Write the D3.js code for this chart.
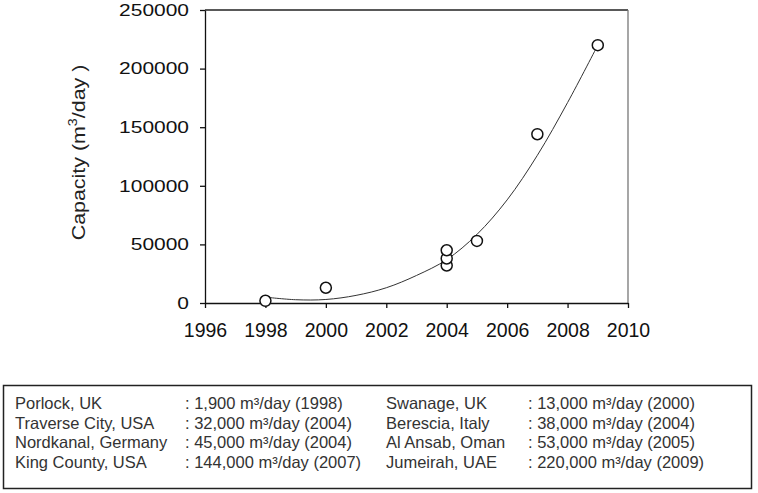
<!DOCTYPE html>
<html>
  <head>
    <meta charset="UTF-8">
    <title>Capacity by year</title>
    <script src="https://d3js.org/d3.v7.min.js"></script>
    <style>
      body { margin: 0; background: #fff; }
      text { font-family: "Liberation Sans", Arial, sans-serif; }
    </style>
  </head>
  <body>
    <svg id="chart" width="758" height="493"></svg>
    <script>
      // plants, listed in the legend row by row
      const sites = ["Porlock, UK", "Swanage, UK", "Traverse City, USA", "Berescia, Italy",
                     "Nordkanal, Germany", "Al Ansab, Oman", "King County, USA", "Jumeirah, UAE"];
      const capacities = [1900, 13000, 32000, 38000, 45000, 53000, 144000, 220000];
      const years = [1998, 2000, 2004, 2004, 2004, 2005, 2007, 2009];

      // trend line
      const trendYears = [1998, 1999, 2000, 2001, 2002, 2003, 2004, 2005, 2006, 2007, 2008, 2009];
      const trendValues = [5000, 2800, 3000, 6500, 13000, 23500, 37000, 58500, 88000, 126000, 171000, 220000];

      const xTicks = [1996, 1998, 2000, 2002, 2004, 2006, 2008, 2010];
      const yTicks = [0, 50000, 100000, 150000, 200000, 250000];

      const svg = d3.select('#chart');

      const x = d3.scaleLinear().domain([1996, 2010]).range([205, 628]);
      const y = d3.scaleLinear().domain([0, 250000]).range([303, 10]);

      // frame top + right
      svg.append('line')
        .attr('x1', x(1996)).attr('x2', x(2010))
        .attr('y1', y(250000)).attr('y2', y(250000))
        .attr('stroke', '#222').attr('stroke-width', 1.3);
      svg.append('line')
        .attr('x1', x(2010)).attr('x2', x(2010))
        .attr('y1', y(250000)).attr('y2', y(0))
        .attr('stroke', '#777').attr('stroke-width', 1.3);

      const yAxis = svg.append('g')
        .attr('transform', `translate(${x(1996)},0)`)
        .call(d3.axisLeft(y).tickValues(yTicks).tickFormat(d3.format('d'))
          .tickSize(5).tickSizeOuter(0));
      yAxis.selectAll('text')
        .attr('x', null)
        .attr('transform', 'translate(-16,0) scale(1.27,1)')
        .style('font-size', '16.5px')
        .attr('fill', '#111');

      const xAxis = svg.append('g')
        .attr('transform', `translate(0,${y(0)})`)
        .call(d3.axisBottom(x).tickValues(xTicks).tickFormat(d3.format('d'))
          .tickSize(5).tickSizeOuter(0).tickPadding(15));
      xAxis.selectAll('text')
        .style('font-size', '19.5px')
        .attr('fill', '#111');

      svg.selectAll('.domain, .tick line')
        .attr('stroke', '#111').attr('stroke-width', 1.3);

      // y label
      const yLabel = svg.append('text')
        .attr('transform', 'translate(85,152.5) rotate(-90) scale(1.19,1)')
        .attr('text-anchor', 'middle')
        .style('font-size', '18px')
        .attr('fill', '#222');
      yLabel.append('tspan').text('Capacity (m');
      yLabel.append('tspan').attr('dy', -8).style('font-size', '12px').text('3');
      yLabel.append('tspan').attr('dy', 8).text('/day )');

      // trend curve
      const line = d3.line()
        .x((d, i) => x(trendYears[i]))
        .y(d => y(d))
        .curve(d3.curveCatmullRom);
      svg.append('path')
        .datum(trendValues)
        .attr('d', line)
        .attr('fill', 'none')
        .attr('stroke', '#333')
        .attr('stroke-width', 1);

      // points
      svg.selectAll('.pt')
        .data(capacities)
        .enter()
        .append('circle')
        .attr('class', 'pt')
        .attr('cx', (d, i) => x(years[i]))
        .attr('cy', d => y(d))
        .attr('r', 5.5)
        .attr('fill', '#fff')
        .attr('stroke', '#111')
        .attr('stroke-width', 1.5);

      // legend table
      svg.append('rect')
        .attr('x', 3.5).attr('y', 385.5)
        .attr('width', 748).attr('height', 103)
        .attr('fill', 'none')
        .attr('stroke', '#222')
        .attr('stroke-width', 1.5);

      const colX = [15, 185, 386, 528];
      const fmt = d3.format(',');
      const rows = svg.selectAll('.leg')
        .data(sites)
        .enter()
        .append('g')
        .attr('class', 'leg')
        .attr('transform', (d, i) => `translate(0,${409 + Math.floor(i / 2) * 19.5})`);
      rows.append('text')
        .attr('x', (d, i) => colX[(i % 2) * 2])
        .style('font-size', '16.5px')
        .attr('fill', '#333')
        .text(d => d);
      rows.append('text')
        .attr('x', (d, i) => colX[(i % 2) * 2 + 1])
        .style('font-size', '16.5px')
        .attr('fill', '#333')
        .text((d, i) => `: ${fmt(capacities[i])} m³/day (${years[i]})`);
    </script>
  </body>
</html>
